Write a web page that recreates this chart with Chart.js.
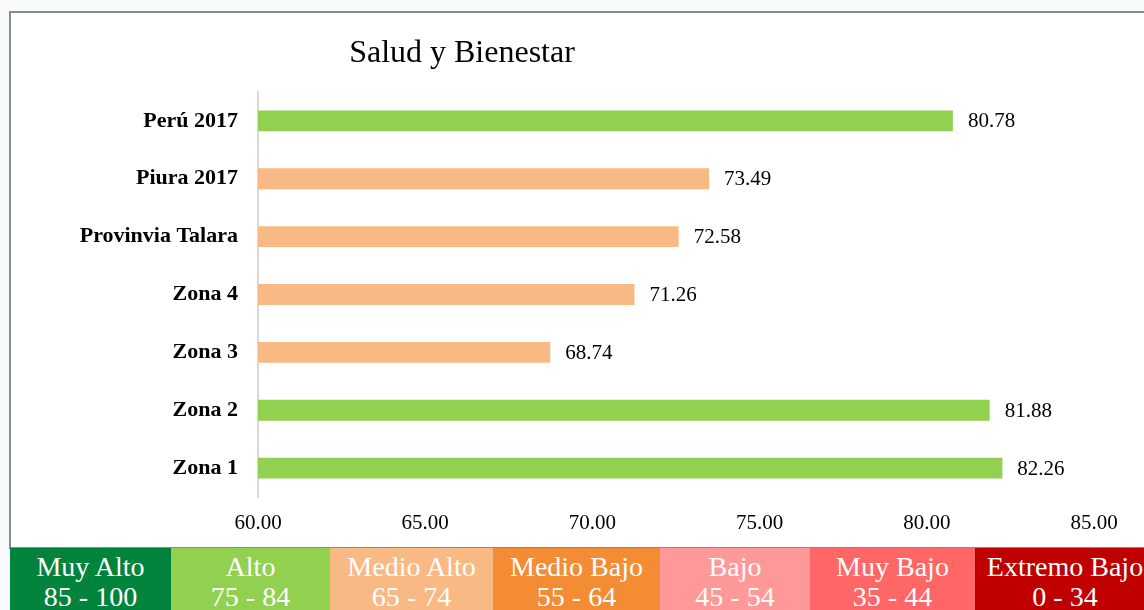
<!DOCTYPE html>
<html>
<head>
<meta charset="utf-8">
<script src="https://cdn.jsdelivr.net/npm/chart.js@4"></script>
<style>
  body { margin:0; background:#f8fbfb; width:1144px; height:610px; overflow:hidden; position:relative; }
  #marco { position:absolute; left:9px; top:11px; width:1300px; height:534px; border:2px solid #8a8a8a; background:#fff; }
  #lienzo { position:absolute; left:10px; top:12px; }
  #leyenda { position:absolute; left:10px; top:548px; height:70px; }
  .celda { position:absolute; top:0; height:70px; color:#fff; text-align:center;
           font-family:"Liberation Serif", serif; font-size:28px; line-height:30px; padding-top:4px; box-sizing:border-box; white-space:nowrap; overflow:hidden; }
</style>
</head>
<body>
<div id="marco"></div>
<canvas id="lienzo" width="1134" height="535"></canvas>
<div id="leyenda"></div>
<script>
// datos del grafico
var titulo = 'Salud y Bienestar';
var categorias = ['Perú 2017', 'Piura 2017', 'Provinvia Talara', 'Zona 4', 'Zona 3', 'Zona 2', 'Zona 1'];
var valores = [80.78, 73.49, 72.58, 71.26, 68.74, 81.88, 82.26];
var colores = ['#92d050', '#f8b984', '#f8b984', '#f8b984', '#f8b984', '#92d050', '#92d050'];

// leyenda de niveles
var niveles = ['Muy Alto', 'Alto', 'Medio Alto', 'Medio Bajo', 'Bajo', 'Muy Bajo', 'Extremo Bajo'];
var rangos = ['85 - 100', '75 - 84', '65 - 74', '55 - 64', '45 - 54', '35 - 44', '0 - 34'];
var coloresNivel = ['#00843d', '#92d050', '#f8b984', '#f48c34', '#ff9999', '#ff6666', '#c00000'];
var anchosNivel = [161, 159, 163, 167, 150, 165, 180];

var ley = document.getElementById('leyenda');
var x = 0;
for (var i = 0; i < niveles.length; i++) {
    var d = document.createElement('div');
    d.className = 'celda';
    d.style.left = x + 'px';
    d.style.width = anchosNivel[i] + 'px';
    d.style.background = coloresNivel[i];
    d.innerHTML = niveles[i] + '<br>' + rangos[i];
    ley.appendChild(d);
    x += anchosNivel[i];
}

//etiquetas y titulo
var etiquetas = {
    id: 'etiquetas',
    afterDatasetsDraw: function(chart) {
        var ctx = chart.ctx;
        ctx.save();
        ctx.fillStyle = '#000';
        ctx.font = '21px "Liberation Serif", serif';
        ctx.textBaseline = 'middle';
        ctx.textAlign = 'left';
        chart.getDatasetMeta(0).data.forEach(function(bar, i) {
            ctx.fillText(valores[i].toFixed(2), bar.x + 15, bar.y + 1);
        });
        ctx.font = '32px "Liberation Serif", serif';
        ctx.textAlign = 'center';
        ctx.fillText(titulo, 452, 42);
        ctx.restore();
    }
};

var ctx = document.getElementById('lienzo');
var chart = new Chart(ctx, {
    type: 'bar',
    data: {
        labels: categorias,
        datasets: [{
            data: valores,
            backgroundColor: colores,
            barPercentage: 0.6,
            categoryPercentage: 0.6
        }]
    },
    options: {
        indexAxis: 'y',
        responsive: false,
        animation: false,
        layout: { padding: { top: 80, right: 50, left: 0, bottom: 0 } },
        plugins: { legend: { display: false }, tooltip: { enabled: false } },
        scales: {
            x: {
                min: 60, max: 85,
                grid: { display: false, drawTicks: false },
                border: { display: false },
                ticks: {
                    stepSize: 5, padding: 14, color: '#000',
                    font: { family: '"Liberation Serif", serif', size: 21 },
                    callback: function(v) { return v.toFixed(2); }
                },
                afterFit: function(s) { s.height = 50; }
            },
            y: {
                grid: { display: false, drawTicks: false },
                border: { display: true, color: '#d9d9d9', width: 2 },
                ticks: {
                    padding: 20, color: '#000',
                    font: { family: '"Liberation Serif", serif', size: 22, weight: 'bold' }
                },
                afterFit: function(s) { s.width = 248; }
            }
        }
    },
    plugins: [etiquetas]
});
</script>
</body>
</html>
